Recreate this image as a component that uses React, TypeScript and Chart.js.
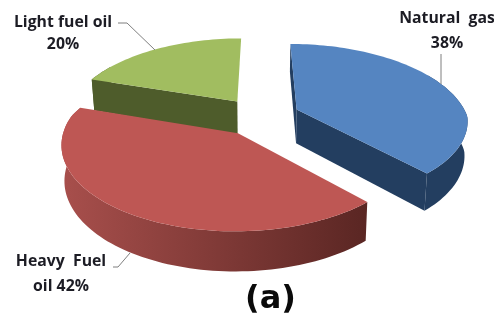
import { useEffect, useRef } from "react";
import { Chart, PieController, ArcElement } from "chart.js";

// Fuel shares, clockwise from twelve o'clock.
const categories = ["Natural gas", "Heavy Fuel oil", "Light fuel oil"];
const shares = [38, 42, 20];
const topColors = ["#5585C1", "#BE5754", "#A1BD60"];
const wallColors = ["#233E60", "#7A3634", "#4E5C2B"];
const rimGradients = [
  ["#233E60", "#233E60"],
  ["#A84F4C", "#5A2623"],
  ["#4E5C2B", "#4E5C2B"],
];

// Text blocks placed around the pie.
const calloutLines = [
  ["Natural  gas", "38%"],
  ["Heavy  Fuel", "oil 42%"],
  ["Light fuel oil", "20%"],
];
const calloutCentres = [
  [447, 18, 43],
  [61, 261, 286],
  [63, 22, 44],
];
const leaderPaths = [
  [[441, 54], [441, 84]],
  [[113, 267], [118, 267], [130, 253]],
  [[118, 23], [127, 23], [155, 50]],
];
const caption = "(a)";

// Perspective of the tilted disc, relative to the pie radius.
const STRETCH_X = 1.465;
const STRETCH_Y = 0.704;
const THICKNESS = 0.295;
const NEAR_GROWTH = 0.12;
const FAR_SHRINK = 0.21;
const DOWN_TAPER = 0.015;
const EXPLODE = 0.235;

type Pt = [number, number];

class TiltedPieController extends PieController {
  static id = "tiltedPie";
  static defaults = PieController.defaults;
  static overrides = PieController.overrides;

  draw() {
    const ctx = this.chart.ctx;
    const arcs = this.getMeta().data as any[];
    const mid = (s: any) => (s.startAngle + s.endAngle) / 2;
    // Far slices first so that nearer ones overlap them.
    const order = arcs.map((_, i) => i).sort((p, q) => Math.sin(mid(arcs[p])) - Math.sin(mid(arcs[q])));

    for (const i of order) {
      const arc = arcs[i];
      const { x: cx, y: cy, outerRadius: R, startAngle, endAngle } = arc;
      const m = mid(arc);
      const project = (u: number, v: number, z: number): Pt => {
        const a = u + EXPLODE * Math.cos(m);
        const b = v + EXPLODE * Math.sin(m);
        const w = 1 / (1 - (b > 0 ? NEAR_GROWTH : FAR_SHRINK) * b);
        return [
          cx + R * STRETCH_X * a * w * (1 - DOWN_TAPER * z),
          cy + R * STRETCH_Y * b * w + R * THICKNESS * z * w,
        ];
      };
      const rimAt = (t: number, z: number) => project(Math.cos(t), Math.sin(t), z);
      const steps = Math.ceil((endAngle - startAngle) / 0.03);
      const angles = Array.from({ length: steps + 1 }, (_, k) => startAngle + ((endAngle - startAngle) * k) / steps);

      const fillPoly = (pts: Pt[], fill: string | CanvasGradient) => {
        ctx.beginPath();
        pts.forEach((p, k) => (k ? ctx.lineTo(p[0], p[1]) : ctx.moveTo(p[0], p[1])));
        ctx.closePath();
        ctx.fillStyle = fill;
        ctx.fill();
      };

      // Curved outer wall, skipping the far part of the rim that stays hidden.
      const upper = angles.map((t) => rimAt(t, 0));
      const shown = angles.filter((t) => Math.sin(t) > -0.5);
      const wallUpper = shown.map((t) => rimAt(t, 0));
      const wallLower = shown.map((t) => rimAt(t, 1));
      const xs = upper.map((p) => p[0]);
      const grad = ctx.createLinearGradient(Math.min(...xs), 0, Math.max(...xs), 0);
      const [from, to] = rimGradients[i];
      grad.addColorStop(0, from);
      grad.addColorStop(1, to);
      fillPoly([...wallUpper, ...wallLower.reverse()], grad);

      // Flat cut faces, only those turned towards the viewer.
      if (-Math.cos(startAngle) > -0.01) {
        fillPoly([project(0, 0, 0), rimAt(startAngle, 0), rimAt(startAngle, 1), project(0, 0, 1)], wallColors[i]);
      }
      if (Math.cos(endAngle) > 0.01) {
        fillPoly([project(0, 0, 0), rimAt(endAngle, 0), rimAt(endAngle, 1), project(0, 0, 1)], wallColors[i]);
      }

      // Top face.
      fillPoly([project(0, 0, 0), ...upper], arc.options.backgroundColor);
    }
  }
}

Chart.register(TiltedPieController, ArcElement);

const calloutPlugin = {
  id: "callouts",
  afterDraw(chart: Chart) {
    const ctx = chart.ctx;
    ctx.save();
    ctx.strokeStyle = "#7F7F7F";
    ctx.lineWidth = 1;
    for (const path of leaderPaths) {
      ctx.beginPath();
      path.forEach(([x, y], k) => (k ? ctx.lineTo(x, y) : ctx.moveTo(x, y)));
      ctx.stroke();
    }
    ctx.fillStyle = "#1C1C24";
    ctx.textAlign = "center";
    ctx.textBaseline = "middle";
    ctx.font = "bold 15.8px 'Open Sans'";
    calloutLines.forEach((lines, i) => {
      const [x, y1, y2] = calloutCentres[i];
      ctx.fillText(lines[0], x, y1);
      ctx.fillText(lines[1], x, y2);
    });
    ctx.fillStyle = "#0A0A0A";
    ctx.font = "bold 32px 'DejaVu Sans'";
    ctx.fillText(caption, 270.5, 300);
    ctx.restore();
  },
};

export default function App() {
  const ref = useRef<HTMLCanvasElement>(null);
  useEffect(() => {
    const chart = new Chart(ref.current!, {
      type: "tiltedPie" as any,
      data: {
        labels: categories,
        datasets: [{ data: shares, backgroundColor: topColors, borderWidth: 0 }],
      },
      options: {
        animation: false,
        responsive: false,
        layout: { padding: { left: 26, bottom: 87 } },
        plugins: { legend: { display: false }, tooltip: { enabled: false } },
      },
      plugins: [calloutPlugin],
    });
    return () => chart.destroy();
  }, []);
  return (
    <canvas
      ref={ref}
      width={494}
      height={320}
      style={{ position: "absolute", left: 0, top: 0, width: 494, height: 320, background: "#fff" }}
    />
  );
}
